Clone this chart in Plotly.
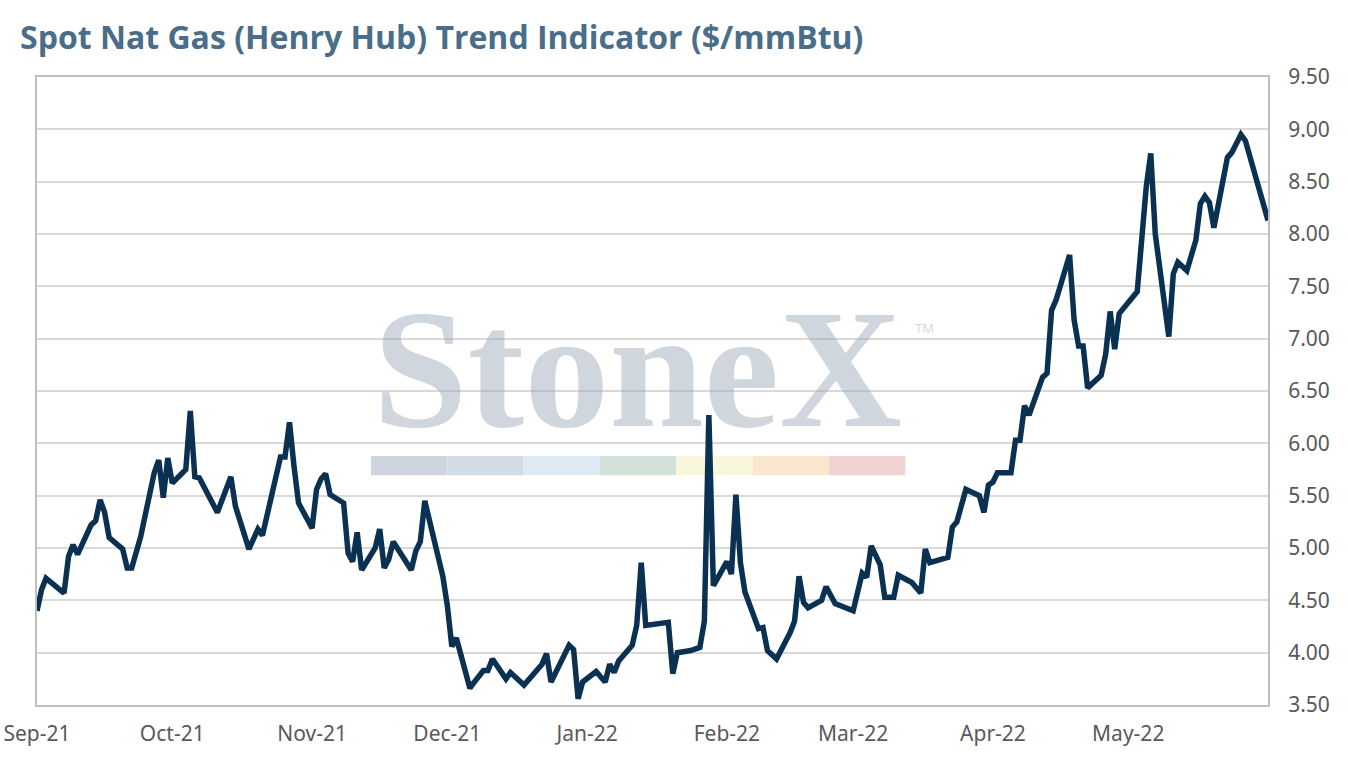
import plotly.graph_objects as go

# Henry Hub spot, $/mmBtu
dates = [
    "2021-09-01", "2021-09-02", "2021-09-03", "2021-09-07", "2021-09-08", "2021-09-09",
    "2021-09-10", "2021-09-13", "2021-09-14", "2021-09-15", "2021-09-16", "2021-09-17",
    "2021-09-20", "2021-09-21", "2021-09-22", "2021-09-24", "2021-09-27", "2021-09-28",
    "2021-09-29", "2021-09-30", "2021-10-01", "2021-10-04", "2021-10-05", "2021-10-06",
    "2021-10-07", "2021-10-11", "2021-10-14", "2021-10-15", "2021-10-18", "2021-10-20",
    "2021-10-21", "2021-10-25", "2021-10-26", "2021-10-27", "2021-10-28", "2021-10-29",
    "2021-11-01", "2021-11-02", "2021-11-03", "2021-11-04", "2021-11-05", "2021-11-08",
    "2021-11-09", "2021-11-10", "2021-11-11", "2021-11-12", "2021-11-15", "2021-11-16",
    "2021-11-17", "2021-11-18", "2021-11-19", "2021-11-23", "2021-11-24", "2021-11-25",
    "2021-11-26", "2021-11-30", "2021-12-01", "2021-12-02", "2021-12-03", "2021-12-06",
    "2021-12-07", "2021-12-09", "2021-12-10", "2021-12-11", "2021-12-14", "2021-12-15",
    "2021-12-18", "2021-12-22", "2021-12-23", "2021-12-24", "2021-12-28", "2021-12-29",
    "2021-12-30", "2021-12-31", "2022-01-03", "2022-01-05", "2022-01-06", "2022-01-07",
    "2022-01-08", "2022-01-11", "2022-01-12", "2022-01-13", "2022-01-14", "2022-01-19",
    "2022-01-20", "2022-01-21", "2022-01-24", "2022-01-26", "2022-01-27", "2022-01-28",
    "2022-01-29", "2022-02-01", "2022-02-02", "2022-02-03", "2022-02-04", "2022-02-05",
    "2022-02-08", "2022-02-09", "2022-02-10", "2022-02-12", "2022-02-15", "2022-02-16",
    "2022-02-17", "2022-02-18", "2022-02-19", "2022-02-22", "2022-02-23", "2022-02-25",
    "2022-03-01", "2022-03-03", "2022-03-04", "2022-03-05", "2022-03-07", "2022-03-08",
    "2022-03-10", "2022-03-11", "2022-03-14", "2022-03-16", "2022-03-17", "2022-03-18",
    "2022-03-22", "2022-03-23", "2022-03-24", "2022-03-26", "2022-03-29", "2022-03-30",
    "2022-03-31", "2022-04-01", "2022-04-02", "2022-04-05", "2022-04-06", "2022-04-07",
    "2022-04-08", "2022-04-09", "2022-04-12", "2022-04-13", "2022-04-14", "2022-04-15",
    "2022-04-18", "2022-04-19", "2022-04-20", "2022-04-21", "2022-04-22", "2022-04-25",
    "2022-04-26", "2022-04-27", "2022-04-28", "2022-04-29", "2022-05-03", "2022-05-05",
    "2022-05-06", "2022-05-07", "2022-05-10", "2022-05-11", "2022-05-12", "2022-05-14",
    "2022-05-16", "2022-05-17", "2022-05-18", "2022-05-19", "2022-05-20", "2022-05-23",
    "2022-05-24", "2022-05-26", "2022-05-27", "2022-06-01",
]
prices = [
    4.40, 4.60, 4.71, 4.57, 4.92, 5.03,
    4.94, 5.22, 5.26, 5.46, 5.34, 5.10,
    4.99, 4.81, 4.81, 5.11, 5.72, 5.84,
    5.48, 5.86, 5.62, 5.75, 6.31, 5.68,
    5.67, 5.34, 5.68, 5.40, 4.99, 5.18,
    5.12, 5.87, 5.87, 6.20, 5.78, 5.43,
    5.19, 5.56, 5.66, 5.71, 5.51, 5.43,
    4.95, 4.87, 5.15, 4.79, 5.00, 5.18,
    4.81, 4.89, 5.06, 4.79, 4.97, 5.06,
    5.45, 4.73, 4.45, 4.06, 4.14, 3.66,
    3.72, 3.83, 3.83, 3.94, 3.75, 3.81,
    3.69, 3.89, 3.99, 3.72, 4.07, 4.03,
    3.56, 3.72, 3.82, 3.72, 3.89, 3.81,
    3.92, 4.07, 4.26, 4.86, 4.26, 4.29,
    3.80, 4.00, 4.02, 4.05, 4.30, 6.27,
    4.64, 4.87, 4.75, 5.51, 4.86, 4.58,
    4.23, 4.24, 4.02, 3.94, 4.19, 4.30,
    4.73, 4.48, 4.43, 4.50, 4.63, 4.47,
    4.40, 4.76, 4.72, 5.02, 4.84, 4.53,
    4.53, 4.74, 4.67, 4.57, 4.99, 4.86,
    4.91, 5.20, 5.25, 5.56, 5.50, 5.34,
    5.60, 5.63, 5.72, 5.72, 6.03, 6.03,
    6.36, 6.27, 6.63, 6.67, 7.27, 7.37,
    7.80, 7.18, 6.93, 6.93, 6.53, 6.65,
    6.85, 7.26, 6.90, 7.24, 7.45, 8.45,
    8.77, 8.00, 7.02, 7.62, 7.73, 7.65,
    7.94, 8.29, 8.36, 8.30, 8.06, 8.73,
    8.78, 8.95, 8.89, 8.13,
]

month_ticks = ["2021-09-01", "2021-10-01", "2021-11-01", "2021-12-01", "2022-01-01",
               "2022-02-01", "2022-03-01", "2022-04-01", "2022-05-01"]
month_labels = ["Sep-21", "Oct-21", "Nov-21", "Dec-21", "Jan-22",
                "Feb-22", "Mar-22", "Apr-22", "May-22"]

# watermark colour strip
strip_colors = ["#cfd5de", "#d1dbe6", "#deeaf4", "#d3e2d9", "#f8f7dc", "#f9e7cf", "#f1d3d4"]

TITLE_COLOR = "#4a6e89"
LINE_COLOR = "#0b3152"
LABEL_COLOR = "#595959"
FRAME_COLOR = "#bfbfbf"
GRID_COLOR = "#d9d9d9"

W, H = 1348, 766

fig = go.Figure()
fig.add_trace(go.Scatter(
    x=dates, y=prices, mode="lines",
    line=dict(color=LINE_COLOR, width=5.5),
    showlegend=False, hoverinfo="x+y",
))

# StoneX watermark
fig.add_annotation(
    text="<b>StoneX</b>", xref="paper", yref="paper", x=0.4878, y=0.535,
    xanchor="center", yanchor="middle", showarrow=False,
    font=dict(family="Liberation Serif", size=170, color="rgba(150,164,182,0.45)"),
)
fig.add_annotation(
    text="TM", xref="paper", yref="paper", x=0.721, y=0.600,
    xanchor="center", yanchor="middle", showarrow=False,
    font=dict(family="Open Sans", size=13, color="#d3d9e1"),
)
seg_w = 0.0620
for i, c in enumerate(strip_colors):
    fig.add_shape(
        type="rect", xref="paper", yref="paper", layer="below",
        x0=0.2713 + i * seg_w, x1=0.2713 + (i + 1) * seg_w, y0=0.366, y1=0.3965,
        fillcolor=c, line=dict(width=0),
    )

fig.update_layout(
    width=W, height=H,
    margin=dict(l=37, r=80, t=77, b=61, pad=0),
    paper_bgcolor="white", plot_bgcolor="white",
    title=dict(
        text="<b>Spot Nat Gas (Henry Hub) Trend Indicator ($/mmBtu)</b>",
        xref="container", yref="container", x=20 / W, y=1 - 38 / H,
        xanchor="left", yanchor="middle",
        font=dict(family="Open Sans", size=32, color=TITLE_COLOR),
    ),
    font=dict(family="Noto Sans", color=LABEL_COLOR),
)
fig.update_xaxes(
    type="date", range=["2021-09-01", "2022-06-01"],
    tickvals=month_ticks, ticktext=month_labels,
    showgrid=False, zeroline=False, ticks="",
    showline=True, mirror=True, linecolor=FRAME_COLOR, linewidth=2,
    tickfont=dict(family="Noto Sans", size=21, color=LABEL_COLOR),
    ticklabelstandoff=9, ticklabeloverflow="allow", automargin=False,
)
fig.update_yaxes(
    side="right", range=[3.5, 9.5], tick0=3.5, dtick=0.5, tickformat=".2f",
    showgrid=True, gridcolor=GRID_COLOR, gridwidth=2, zeroline=False, ticks="",
    showline=True, mirror=True, linecolor=FRAME_COLOR, linewidth=2,
    tickfont=dict(family="Noto Sans", size=21, color=LABEL_COLOR),
    ticklabelstandoff=14, automargin=False,
)

# drop the browser's default body margin so the figure fills the window
fig.write_html(
    "out.html",
    config={"displayModeBar": False},
    post_script="document.body.style.margin = '0';",
)
